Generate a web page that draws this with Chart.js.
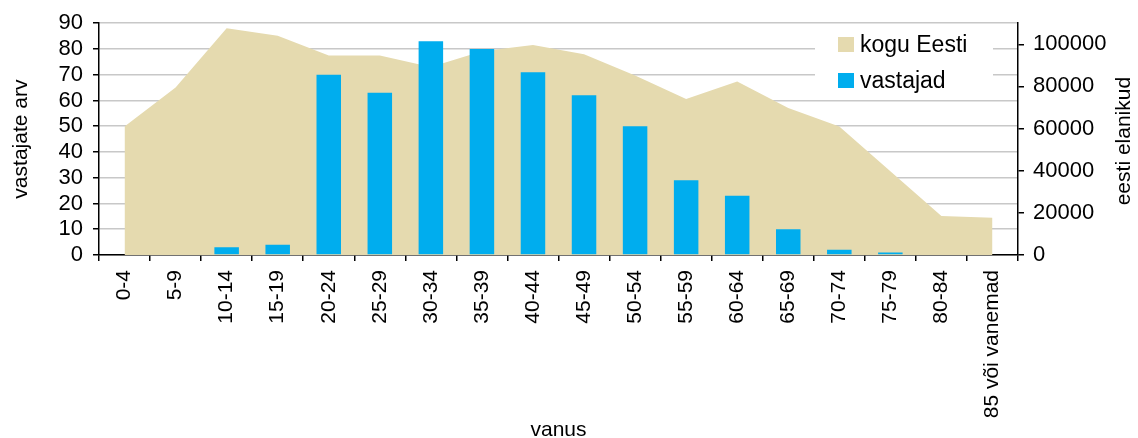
<!DOCTYPE html>
<html>
<head>
<meta charset="utf-8">
<script src="https://cdn.jsdelivr.net/npm/chart.js@4"></script>
<style>
  html, body { margin: 0; padding: 0; background: #fff; }
  #wrap { width: 1138px; height: 438px; }
</style>
</head>
<body>
<div id="wrap"><canvas id="chart"></canvas></div>
<script>
const categories = ['0-4', '5-9', '10-14', '15-19', '20-24', '25-29', '30-34', '35-39', '40-44',
  '45-49', '50-54', '55-59', '60-64', '65-69', '70-74', '75-79', '80-84', '85 või vanemad'];
const vastajad = [0, 0, 3, 4, 70, 63, 83, 80, 71, 62, 50, 29, 23, 10, 2, 1, 0, 0];
const koguEesti = [61000, 79500, 107600, 104100, 94700, 94700, 89200, 96700, 99700,
  95300, 85200, 74000, 82300, 69700, 61000, 39800, 18500, 17700];
const rightTicks = [0, 20000, 40000, 60000, 80000, 100000];

const FONT = 'Liberation Sans, Arial, sans-serif';
const BEIGE = '#e5daaf';
const BLUE = '#00adee';

// legend inside the plot (top right, white box) + right axis title reading upwards
const extras = {
  id: 'extras',
  afterDraw(chart) {
    const ctx = chart.ctx;
    const items = [
      { text: 'kogu Eesti', color: BEIGE, y: 44.5 },
      { text: 'vastajad', color: BLUE, y: 80.5 }
    ];
    ctx.save();
    ctx.fillStyle = '#fff';
    ctx.fillRect(815, 24, 178, 72);
    ctx.font = '23px ' + FONT;
    ctx.textBaseline = 'middle';
    items.forEach(it => {
      ctx.fillStyle = it.color;
      ctx.fillRect(838, it.y - 7.5, 16, 15);
      ctx.fillStyle = '#000';
      ctx.fillText(it.text, 860, it.y + 1);
    });
    const area = chart.chartArea;
    ctx.translate(1124, (area.top + area.bottom) / 2 + 2);
    ctx.rotate(-Math.PI / 2);
    ctx.textAlign = 'center';
    ctx.font = '21px ' + FONT;
    ctx.fillText('eesti elanikud', 0, 0);
    ctx.restore();
  }
};

new Chart(document.getElementById('chart'), {
  type: 'bar',
  data: {
    labels: categories,
    datasets: [
      {
        type: 'bar',
        label: 'vastajad',
        data: vastajad,
        backgroundColor: BLUE,
        yAxisID: 'y',
        barPercentage: 0.48,
        categoryPercentage: 1,
        order: 0
      },
      {
        type: 'line',
        label: 'kogu Eesti',
        data: koguEesti,
        backgroundColor: BEIGE,
        borderWidth: 0,
        pointRadius: 0,
        fill: 'origin',
        tension: 0,
        yAxisID: 'y2',
        order: 1
      }
    ]
  },
  options: {
    responsive: true,
    maintainAspectRatio: false,
    animation: false,
    layout: { padding: { top: 11, right: 0, left: 0, bottom: 0 } },
    plugins: {
      legend: { display: false },
      tooltip: { enabled: false }
    },
    scales: {
      x: {
        grid: { drawOnChartArea: false, tickLength: 6, tickColor: '#000', lineWidth: 1.5 },
        border: { color: '#000', width: 1.5 },
        ticks: {
          minRotation: 90, maxRotation: 90, autoSkip: false, padding: 9,
          color: '#000', font: { family: FONT, size: 21 }
        },
        title: {
          display: true, text: 'vanus', color: '#000',
          font: { family: FONT, size: 21, lineHeight: 1 }, padding: { top: 0, bottom: -3 }
        },
        afterFit(s) { s.height = 438 - 255; }
      },
      y: {
        position: 'left',
        min: 0, max: 90,
        ticks: {
          stepSize: 10, autoSkip: false, padding: 10,
          color: '#000', font: { family: FONT, size: 22 }
        },
        grid: { color: '#c8c8c8', lineWidth: 1.5, tickLength: 6, tickColor: '#000' },
        border: { color: '#000', width: 1.5 },
        title: {
          display: true, text: 'vastajate arv', color: '#000',
          font: { family: FONT, size: 21, lineHeight: 1 }, padding: { top: 11, bottom: 0 }
        },
        afterFit(s) { s.width = 99; }
      },
      y2: {
        position: 'right',
        min: 0, max: 110000,
        afterBuildTicks(s) { s.ticks = rightTicks.map(v => ({ value: v })); },
        ticks: {
          autoSkip: false, padding: 9, color: '#000', font: { family: FONT, size: 22 },
          callback: v => String(v)
        },
        grid: { drawOnChartArea: false, tickLength: 6, tickColor: '#000', lineWidth: 1.5 },
        border: { color: '#000', width: 1.5 },
        afterFit(s) { s.width = 1138 - 1018; }
      }
    }
  },
  plugins: [extras]
});
</script>
</body>
</html>
